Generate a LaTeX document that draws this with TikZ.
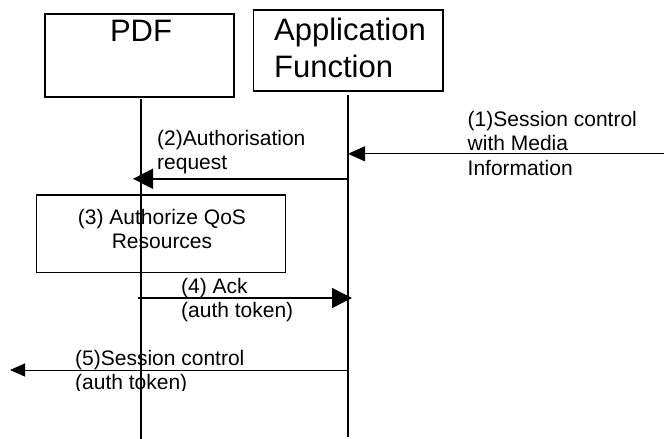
\documentclass[tikz,border=0pt]{standalone}
\usepackage{fontspec}
\setmainfont{Liberation Sans}
\usetikzlibrary{arrows.meta}
\begin{document}
\begin{tikzpicture}[x=1pt,y=-1pt,
  box/.style={draw,line width=1.3pt,inner sep=0pt},
  head/.style={inner sep=0pt,align=left,font=\fontsize{31}{37}\selectfont},
  lbl/.style={inner sep=0pt,anchor=north west,align=left,font=\fontsize{21}{24.5}\selectfont},
  lifeline/.style={line width=1.6pt},
  bigmsg/.style={line width=1.5pt,-{Triangle[length=20pt,width=20pt]}},
  smallmsg/.style={line width=1pt}]
\useasboundingbox (0,0) rectangle (664,439);
%\draw[step=20,gray,very thin] (0,0) grid (664,439);
\node[box,minimum width=189pt,minimum height=83pt] (pdfbox) at (139.5,55.5) {};
\node[box,minimum width=189.5pt,minimum height=81pt] (afbox) at (348.25,50.5) {};
\node[head,anchor=base] (pdf) at (141,41) {PDF};
\node[head,anchor=north west] (af) at (274,17.8) {Application\\Function};
\node[box,minimum width=249pt,minimum height=77.3pt] (authbox) at (161.2,233.6) {};
\node[lbl,anchor=north,align=center] (l3) at (162,208.7) {(3) Authorize QoS\\Resources};

% lifelines
\coordinate (pdftop) at (141,99);
\coordinate (pdfend) at (141,439);
\coordinate (aftop) at (348,94.5);
\coordinate (afend) at (348,436.7);
\draw[lifeline] (pdftop) -- (pdfend);
\draw[lifeline] (aftop) -- (afend);

% messages
\coordinate (in1) at (664,153.8);
\coordinate (pdf2) at (133,178.8);
\coordinate (pdf4) at (137.7,298);
\coordinate (out5) at (10,370);
\draw[smallmsg,-{Triangle[length=17pt,width=15pt]}] (in1) -- (aftop |- in1);
\draw[bigmsg] (aftop |- pdf2) -- (pdf2);
\draw[bigmsg] (pdf4) -- ([xshift=4pt]aftop |- pdf4);
\draw[smallmsg,-{Triangle[length=15pt,width=13pt]}] (aftop |- out5) -- (out5);

\node[lbl] (l1) at (467.5,111) {(1)Session control\\with Media\\Information};
\node[lbl] (l2) at (157,129.6) {(2)Authorisation\\request};
\node[lbl] (l4) at (181,278) {(4) Ack\\(auth token)};
\begin{scope}
\clip (60,340) rectangle (320,390.5);
\node[lbl] (l5) at (75,349.7) {(5)Session control\\(auth token)};
\end{scope}
\end{tikzpicture}
\end{document}
